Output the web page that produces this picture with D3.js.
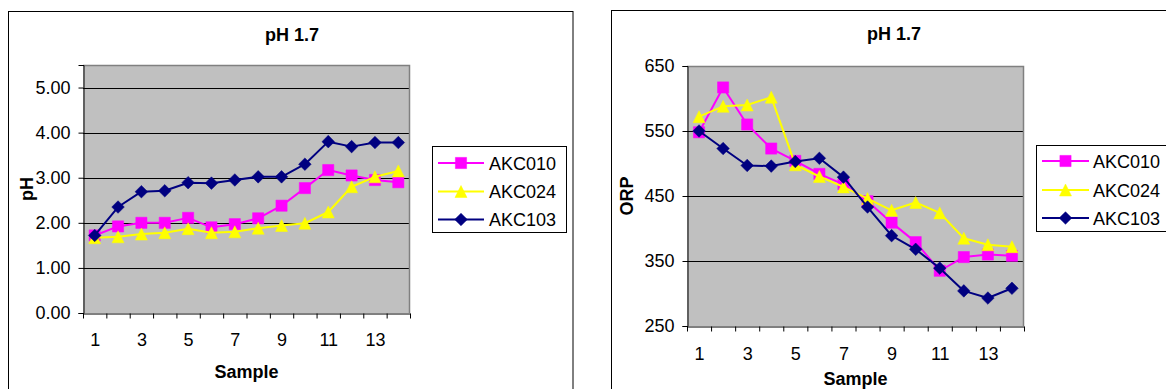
<!DOCTYPE html>
<html>
<head>
<meta charset="utf-8">
<script src="https://cdn.jsdelivr.net/npm/d3@7"></script>
<style>
  html, body { margin: 0; padding: 0; background: #fff; }
  svg { display: block; font-family: "Liberation Sans", Arial, sans-serif; }
</style>
</head>
<body>
<svg id="chart" width="1166" height="389"></svg>
<script>
// Sample numbers on the x axis
const categories = [1, 2, 3, 4, 5, 6, 7, 8, 9, 10, 11, 12, 13, 14];
const categoryLabels = [1, 3, 5, 7, 9, 11, 13];
const seriesNames = ["AKC010", "AKC024", "AKC103"];

// pH readings per sample
const phAKC010 = [1.72, 1.92, 2.00, 2.00, 2.11, 1.90, 1.97, 2.10, 2.38, 2.77, 3.17, 3.05, 2.95, 2.90];
const phAKC024 = [1.67, 1.69, 1.75, 1.78, 1.87, 1.78, 1.80, 1.88, 1.94, 1.99, 2.24, 2.80, 3.02, 3.15];
const phAKC103 = [1.72, 2.35, 2.69, 2.71, 2.89, 2.88, 2.95, 3.02, 3.02, 3.30, 3.80, 3.69, 3.78, 3.78];
const phTicks = [0, 1, 2, 3, 4, 5];

// ORP readings per sample
const orpAKC010 = [548, 617, 560, 523, 504, 484, 468, 442, 409, 379, 335, 356, 360, 358];
const orpAKC024 = [572, 588, 590, 602, 498, 480, 464, 446, 428, 440, 424, 385, 375, 372];
const orpAKC103 = [550, 523, 497, 496, 503, 508, 479, 433, 389, 368, 339, 304, 293, 308];
const orpTicks = [250, 350, 450, 550, 650];

const colors = { AKC010: "#FF00FF", AKC024: "#FFFF00", AKC103: "#000080" };

// Marker shapes as d3 symbol types (size = half-width)
const squareType = {
  draw(ctx, r) { ctx.moveTo(-r, -r); ctx.lineTo(r, -r); ctx.lineTo(r, r); ctx.lineTo(-r, r); ctx.closePath(); }
};
const triangleType = {
  draw(ctx, r) { ctx.moveTo(0, -r); ctx.lineTo(r, r); ctx.lineTo(-r, r); ctx.closePath(); }
};
const diamondType = {
  draw(ctx, r) { ctx.moveTo(0, -r); ctx.lineTo(r, 0); ctx.lineTo(0, r); ctx.lineTo(-r, 0); ctx.closePath(); }
};
const markers = {
  AKC010: d3.symbol(squareType, 5.6),
  AKC024: d3.symbol(triangleType, 6),
  AKC103: d3.symbol(diamondType, 6.3)
};

const svg = d3.select("#chart");

function drawChart(cfg) {
  const g = svg.append("g");

  // outer chart frame
  g.append("rect")
    .attr("x", cfg.frame.x).attr("y", cfg.frame.y)
    .attr("width", cfg.frame.w).attr("height", cfg.frame.h)
    .attr("fill", "#fff").attr("stroke", "#000").attr("stroke-width", 1);

  const x = d3.scaleLinear().domain([0.5, categories.length + 0.5]).range([cfg.plot.x0, cfg.plot.x1]);
  const y = d3.scaleLinear().domain(cfg.yDomain).range([cfg.plot.y1, cfg.plot.y0]);

  // plot background
  g.append("rect")
    .attr("x", cfg.plot.x0).attr("y", cfg.plot.y0)
    .attr("width", cfg.plot.x1 - cfg.plot.x0).attr("height", cfg.plot.y1 - cfg.plot.y0)
    .attr("fill", "#C0C0C0");

  // gridlines
  g.append("g").selectAll("line")
    .data(cfg.yTicks.slice(1))
    .join("line")
    .attr("x1", cfg.plot.x0).attr("x2", cfg.plot.x1)
    .attr("y1", d => Math.round(y(d)) + 0.5).attr("y2", d => Math.round(y(d)) + 0.5)
    .attr("stroke", "#000").attr("stroke-width", 1);

  // gray top/right border of plot area
  g.append("path")
    .attr("d", `M${cfg.plot.x0},${cfg.plot.y0 + 0.5}H${cfg.plot.x1 - 0.5}V${cfg.plot.y1}`)
    .attr("fill", "none").attr("stroke", "#808080").attr("stroke-width", 1.5);

  // y axis
  const yAxis = g.append("g")
    .attr("transform", `translate(${cfg.plot.x0 + 0.5},0)`)
    .call(d3.axisLeft(y).tickValues(cfg.yTicks).tickFormat(cfg.yFormat).tickSize(5).tickPadding(8));
  yAxis.select(".domain").attr("stroke", "#000");
  yAxis.selectAll("text").attr("font-size", 18).attr("fill", "#000")
    .attr("font-family", "'Liberation Sans', Arial, sans-serif");

  // x axis: tick marks on sample boundaries
  const xAxis = g.append("g")
    .attr("transform", `translate(0,${cfg.plot.y1 + 0.5})`)
    .call(d3.axisBottom(x).tickValues(d3.range(0.5, categories.length + 1, 1)).tickFormat("").tickSize(5).tickSizeOuter(0));
  xAxis.select(".domain").attr("stroke", "#000");

  // x axis labels at odd samples
  const xLab = g.append("g")
    .attr("transform", `translate(0,${cfg.plot.y1 + 0.5})`)
    .call(d3.axisBottom(x).tickValues(categoryLabels).tickFormat(d3.format("d")).tickSize(0).tickPadding(cfg.xLabelPad));
  xLab.select(".domain").remove();
  xLab.selectAll("text").attr("font-size", 18).attr("fill", "#000")
    .attr("font-family", "'Liberation Sans', Arial, sans-serif");

  // titles
  g.append("text").attr("x", cfg.title.x).attr("y", cfg.title.y)
    .attr("text-anchor", "middle").attr("font-size", 18).attr("font-weight", "bold")
    .text("pH 1.7");
  g.append("text").attr("x", (cfg.plot.x0 + cfg.plot.x1) / 2).attr("y", cfg.xTitleY)
    .attr("text-anchor", "middle").attr("font-size", 18).attr("font-weight", "bold")
    .text("Sample");
  g.append("text")
    .attr("transform", `translate(${cfg.yTitleX},${(cfg.plot.y0 + cfg.plot.y1) / 2}) rotate(-90)`)
    .attr("text-anchor", "middle").attr("font-size", 18).attr("font-weight", "bold")
    .text(cfg.yTitle);

  // series
  const line = d3.line().x((d, i) => x(categories[i])).y(d => y(d));
  seriesNames.forEach(name => {
    const vals = cfg.series[name];
    const sg = g.append("g");
    sg.append("path").datum(vals).attr("d", line)
      .attr("fill", "none").attr("stroke", colors[name]).attr("stroke-width", 2)
      .attr("stroke-linejoin", "round");
    sg.selectAll("path.mk").data(vals).join("path").attr("class", "mk")
      .attr("transform", (d, i) => `translate(${x(categories[i])},${y(d)})`)
      .attr("d", markers[name]())
      .attr("fill", colors[name]).attr("stroke", colors[name]).attr("stroke-width", 0.5);
  });

  // legend
  const L = cfg.legend;
  g.append("rect").attr("x", L.x + 0.5).attr("y", L.y + 0.5).attr("width", L.w).attr("height", L.h)
    .attr("fill", "#fff").attr("stroke", "#000").attr("stroke-width", 1);
  seriesNames.forEach((name, i) => {
    const cy = L.rows[i];
    g.append("line").attr("x1", L.lx0).attr("x2", L.lx1).attr("y1", cy).attr("y2", cy)
      .attr("stroke", colors[name]).attr("stroke-width", 2);
    g.append("path").attr("transform", `translate(${(L.lx0 + L.lx1) / 2},${cy})`)
      .attr("d", markers[name]()).attr("fill", colors[name]).attr("stroke", colors[name]).attr("stroke-width", 0.5);
    g.append("text").attr("x", L.tx).attr("y", cy + 6.5)
      .attr("font-size", 18).attr("fill", "#000").text(name);
  });
}

drawChart({
  frame: { x: 8.5, y: 11.5, w: 564.5, h: 400 },
  plot: { x0: 83, x1: 410, y0: 65, y1: 313 },
  yDomain: [0, 5.5],
  yTicks: phTicks,
  yFormat: d3.format(".2f"),
  xLabelPad: 20,
  title: { x: 292, y: 41 },
  xTitleY: 378,
  yTitleX: 33,
  yTitle: "pH",
  series: { AKC010: phAKC010, AKC024: phAKC024, AKC103: phAKC103 },
  legend: { x: 432, y: 146, w: 134, h: 86, lx0: 438, lx1: 484, tx: 489, rows: [163, 191.5, 219.5] }
});

drawChart({
  frame: { x: 611.5, y: 10.5, w: 600, h: 400 },
  plot: { x0: 687, x1: 1024, y0: 66, y1: 326 },
  yDomain: [250, 650],
  yTicks: orpTicks,
  yFormat: d3.format("d"),
  xLabelPad: 21,
  title: { x: 894, y: 40 },
  xTitleY: 385,
  yTitleX: 633,
  yTitle: "ORP",
  series: { AKC010: orpAKC010, AKC024: orpAKC024, AKC103: orpAKC103 },
  legend: { x: 1036, y: 145, w: 140, h: 86, lx0: 1042, lx1: 1089, tx: 1093, rows: [161, 190, 218] }
});
</script>
</body>
</html>
